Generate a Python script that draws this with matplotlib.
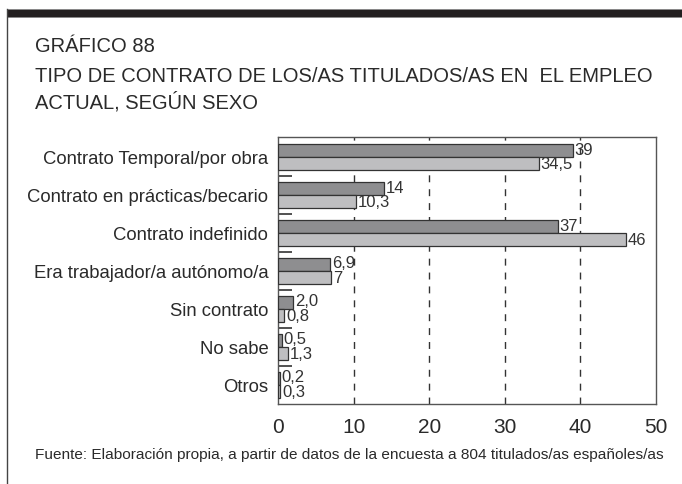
import matplotlib.pyplot as plt
import numpy as np

plt.rcParams['font.family'] = ['Liberation Sans', 'DejaVu Sans']

categorias = ['Contrato Temporal/por obra', 'Contrato en prácticas/becario',
              'Contrato indefinido', 'Era trabajador/a autónomo/a',
              'Sin contrato', 'No sabe', 'Otros']
hombres = [39, 14, 37, 6.9, 2.0, 0.5, 0.2]
mujeres = [34.5, 10.3, 46, 7, 0.8, 1.3, 0.3]
etiq_h = ['39', '14', '37', '6,9', '2,0', '0,5', '0,2']
etiq_m = ['34,5', '10,3', '46', '7', '0,8', '1,3', '0,3']

texto = '#2a2a2a'

fig = plt.figure(figsize=(6.82, 4.84), dpi=100)

# marco: barra negra arriba y linea a la izquierda
fig.patches.append(plt.Rectangle((7/682, 1-17/484), 1, 8/484, transform=fig.transFigure,
                                 facecolor='#231f20', edgecolor='#888888', lw=0.6))
fig.lines.append(plt.Line2D([7/682, 7/682], [0, 1-9/484], transform=fig.transFigure,
                            color='#444444', lw=1))

fig.text(35/682, 1-47/484, 'GRÁFICO 88', fontsize=14.5, color=texto, va='center')
fig.text(35/682, 1-76/484, 'TIPO DE CONTRATO DE LOS/AS TITULADOS/AS EN  EL EMPLEO',
         fontsize=14.5, color=texto, va='center')
fig.text(35/682, 1-102/484, 'ACTUAL, SEGÚN SEXO', fontsize=14.5, color=texto, va='center')
fig.text(35/682, 1-455/484,
         'Fuente: Elaboración propia, a partir de datos de la encuesta a 804 titulados/as españoles/as',
         fontsize=11.1, color=texto, va='center')

ax = fig.add_axes([278/682, 1-404/484, 378/682, 267/484])
y = np.arange(len(categorias))
h = 0.333
ax.barh(y - h/2, hombres, height=h, color='#8e8e90', edgecolor='#333333', lw=0.9, zorder=3)
ax.barh(y + h/2, mujeres, height=h, color='#bebec0', edgecolor='#333333', lw=0.9, zorder=3)

for i in range(len(categorias)):
    ax.text(hombres[i] + 0.25, y[i] - h/2 - 0.02, etiq_h[i], fontsize=12, color='#333333',
            va='center', ha='left', zorder=4)
    ax.text(mujeres[i] + 0.25, y[i] + h/2 + 0.02, etiq_m[i], fontsize=12, color='#333333',
            va='center', ha='left', zorder=4)

ax.set_xlim(0, 50)
ax.set_ylim(6.5, -0.53)
ax.set_xticks([0, 10, 20, 30, 40, 50])
ax.tick_params(axis='x', length=0, pad=10, labelsize=15, labelcolor=texto)
ax.set_yticks(y)
ax.set_yticklabels(categorias)
ax.tick_params(axis='y', length=0, pad=7, labelsize=13.3, labelcolor=texto)
# marcas cortas entre grupos
ax.set_yticks(np.arange(len(categorias) - 1) + 0.5, minor=True)
ax.tick_params(axis='y', which='minor', direction='in', length=10, width=1.2, color='#333333')

for xv in [10, 20, 30, 40]:
    ax.axvline(xv, color='#333333', lw=1, ls=(0, (5, 5)), zorder=1)

for s in ax.spines.values():
    s.set_color('#555555')
    s.set_linewidth(1)

fig.savefig('out.png', dpi=100)
